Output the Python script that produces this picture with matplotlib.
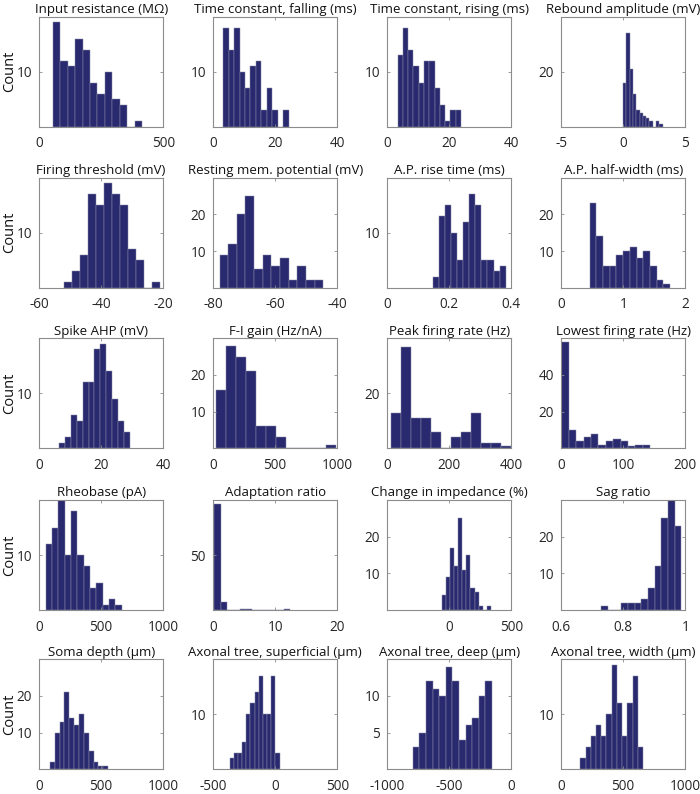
import numpy as np
import matplotlib
matplotlib.use('Agg')
import matplotlib.pyplot as plt

plt.rcParams['font.family'] = ['Open Sans', 'DejaVu Sans']
plt.rcParams['axes.unicode_minus'] = False

titles = ['Input resistance (MΩ)', 'Time constant, falling (ms)', 'Time constant, rising (ms)',
          'Rebound amplitude (mV)', 'Firing threshold (mV)', 'Resting mem. potential (mV)',
          'A.P. rise time (ms)', 'A.P. half-width (ms)', 'Spike AHP (mV)', 'F-I gain (Hz/nA)',
          'Peak firing rate (Hz)', 'Lowest firing rate (Hz)', 'Rheobase (pA)', 'Adaptation ratio',
          'Change in impedance (%)', 'Sag ratio', 'Soma depth (µm)',
          'Axonal tree, superficial (µm)', 'Axonal tree, deep (µm)', 'Axonal tree, width (µm)']

# histogram range (first bin edge, last bin edge)
bin_lo = [55, 3.3, 3.4, 0.0, -51.85, -77.9, 0.147, 0.458, 6.4, 21,
          11.8, 0.5, 54, 0.2, -60, 0.7298, 88, -366, -792, 155]
bin_hi = [415, 24.3, 23.8, 3.17, -21.0, -44.5, 0.382, 1.754, 29.3, 993,
          398, 143.3, 666, 12.44, 336, 0.987, 556, 36, -156, 659]

counts = [
    [19, 12, 11, 16, 14, 8, 6, 10, 5, 4, 0, 1],
    [18, 14, 18, 10, 7, 11, 12, 3, 7, 3, 0, 3],
    [13, 18, 14, 11, 8, 12, 12, 7, 4, 1, 3, 3],
    [16, 34, 21, 12, 6, 5, 4, 3, 2, 0, 2, 1],
    [1, 3, 6, 17, 15, 19, 17, 15, 7, 5, 0, 1],
    [9, 12, 20, 25, 5, 9, 6, 8, 2, 6, 2, 2],
    [2, 13, 15, 10, 5, 12, 17, 15, 5, 5, 3, 4],
    [23, 14, 6, 6, 9, 10, 11, 8, 10, 6, 2, 1],
    [1, 2, 6, 5, 12, 12, 18, 19, 14, 9, 5, 3],
    [16, 28, 25, 21, 6, 6, 3, 0, 0, 0, 0, 1],
    [13, 37, 11, 11, 6, 0, 4, 6, 13, 2, 2, 1],
    [58, 10, 4, 6, 8, 2, 4, 5, 4, 1, 2, 2],
    [12, 15, 20, 10, 18, 10, 8, 4, 5, 1, 2, 1],
    [96, 7, 0, 0, 1, 1, 0, 0, 0, 0, 0, 1],
    [4, 9, 17, 12, 25, 11, 15, 6, 5, 1, 0, 1],
    [1, 0, 0, 2, 2, 2, 3, 6, 12, 25, 30, 23],
    [2, 10, 13, 21, 14, 12, 15, 10, 5, 2, 1, 1],
    [2, 3, 3, 5, 10, 12, 14, 17, 10, 10, 17, 3],
    [3, 5, 12, 11, 10, 14, 12, 4, 6, 7, 10, 12],
    [2, 4, 6, 8, 6, 10, 19, 12, 6, 12, 17, 4],
]

xlims = [(0, 500), (0, 40), (0, 40), (-5, 5), (-60, -20), (-80, -40), (0, 0.4), (0, 2),
         (0, 40), (0, 1000), (0, 400), (0, 200), (0, 1000), (0, 20), (-500, 500), (0.6, 1),
         (0, 1000), (-500, 500), (-1000, 0), (0, 1000)]
xticks = [[0, 500], [0, 20, 40], [0, 20, 40], [-5, 0, 5], [-60, -40, -20], [-80, -60, -40],
          [0, 0.2, 0.4], [0, 1, 2], [0, 20, 40], [0, 500, 1000], [0, 200, 400], [0, 100, 200],
          [0, 500, 1000], [0, 10, 20], [-500, 0, 500], [0.6, 0.8, 1], [0, 500, 1000],
          [-500, 0, 500], [-1000, -500, 0], [0, 500, 1000]]
xticklabels = [['0', '500'], ['0', '20', '40'], ['0', '20', '40'], ['-5', '0', '5'],
               ['-60', '-40', '-20'], ['-80', '-60', '-40'], ['0', '0.2', '0.4'], ['0', '1', '2'],
               ['0', '20', '40'], ['0', '500', '1000'], ['0', '200', '400'], ['0', '100', '200'],
               ['0', '500', '1000'], ['0', '10', '20'], ['', '0', '500'], ['0.6', '0.8', '1'],
               ['0', '500', '1000'], ['-500', '0', '500'], ['-1000', '-500', '0'],
               ['0', '500', '1000']]
ylims = [20, 20, 20, 40, 20, 30, 20, 30, 20, 30, 40, 60, 20, 100, 30, 30, 30, 20, 15, 20]
yticks = [[10], [10], [10], [20], [10], [10, 20], [10], [10, 20], [10], [10, 20], [20], [20, 40],
          [10], [50], [10, 20], [10, 20], [10, 20], [10], [5, 10], [10]]

bar_color = '#29296f'
edge_color = '#8a8aa8'
frame_color = '#8c8c8c'

fig = plt.figure(figsize=(7.0, 7.94), dpi=100)

left0, col_step, w = 0.0557, 0.2486, 0.1776
bottoms = [0.8405, 0.6377, 0.4354, 0.2317, 0.0312]
h = 0.1385

for i, title in enumerate(titles):
    r, c = divmod(i, 4)
    ax = fig.add_axes([left0 + c * col_step, bottoms[r], w, h])
    edges = np.linspace(bin_lo[i], bin_hi[i], len(counts[i]) + 1)
    ax.bar(edges[:-1], counts[i], width=np.diff(edges), align='edge',
           color=bar_color, edgecolor=edge_color, linewidth=0.35)
    ax.set_xlim(*xlims[i])
    ax.set_ylim(0, ylims[i])
    ax.set_xticks(xticks[i])
    ax.set_xticklabels(xticklabels[i])
    ax.set_yticks(yticks[i])
    ax.tick_params(direction='in', length=2.5, width=0.6, color=frame_color,
                   top=True, right=True, labelsize=9.8, labelcolor='#262626')
    ax.tick_params(axis='x', pad=7)
    ax.tick_params(axis='y', pad=5)
    for s in ax.spines.values():
        s.set_color(frame_color)
        s.set_linewidth(0.8)
    ax.set_title(title, fontsize=9.5, pad=2.6, color='#111111')
    if c == 0:
        ax.set_ylabel('Count', fontsize=10.5, color='#111111')
        ax.yaxis.set_label_coords(-0.175, 0.5)

fig.savefig('out.png', dpi=100)
